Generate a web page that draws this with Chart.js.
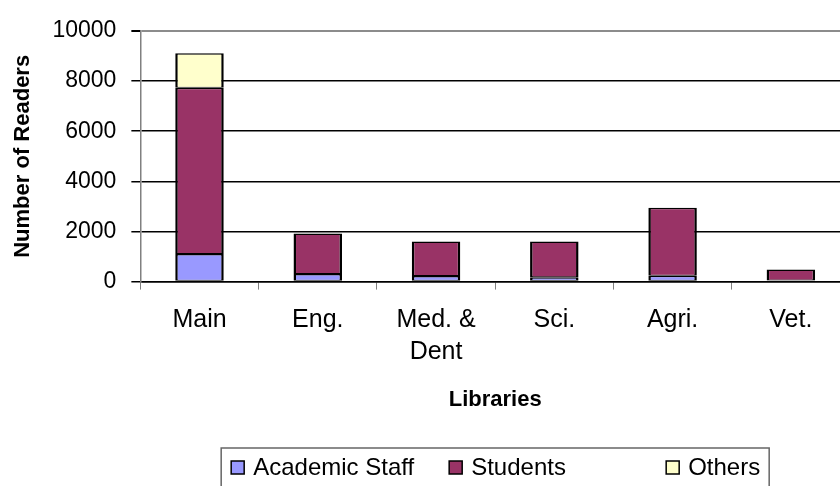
<!DOCTYPE html>
<html>
<head>
<meta charset="utf-8">
<script src="https://cdn.jsdelivr.net/npm/chart.js@4"></script>
<style>
  html, body { margin: 0; padding: 0; background: #fff; overflow: hidden; }
  #wrap { width: 852px; height: 486px; }
</style>
</head>
<body>
<div id="wrap"><canvas id="chart" width="852" height="486"></canvas></div>
<script>
const libraries = ["Main", "Eng.", ["Med. &", "Dent"], "Sci.", "Agri.", "Vet."];
const academicStaff = [1100, 300, 220, 170, 230, 40];
const students = [6640, 1620, 1380, 1430, 2720, 440];
const others = [1370, 0, 0, 0, 0, 0];
const yTicks = [0, 2000, 4000, 6000, 8000, 10000];

const FONT = "'Liberation Sans', Arial, sans-serif";

// Excel-like boxed legend, drawn under the axis title
const boxLegend = {
  id: "boxLegend",
  afterDraw(chart) {
    const ctx = chart.ctx;
    const area = chart.chartArea;
    const width = 548;
    const left = (area.left + area.right) / 2 - width / 2;
    const top = chart.scales.x.bottom + 11;
    const cols = [10, 228, 445];

    ctx.save();
    ctx.strokeStyle = "#666";
    ctx.lineWidth = 1.5;
    ctx.strokeRect(left, top, width, 60);

    ctx.font = "24px " + FONT;
    ctx.textBaseline = "middle";
    chart.data.datasets.forEach((ds, i) => {
      const x = left + cols[i];
      const y = top + 19;
      ctx.fillStyle = ds.backgroundColor;
      ctx.fillRect(x, y - 6, 13, 13);
      ctx.strokeStyle = "#000";
      ctx.lineWidth = 1.5;
      ctx.strokeRect(x, y - 6, 13, 13);
      ctx.fillStyle = "#000";
      ctx.fillText(ds.label, x + 22, y + 1);
    });
    ctx.restore();
  }
};

const barStyle = {
  borderColor: "#000",
  borderWidth: { top: 1.5, bottom: 1, left: 2.5, right: 2.5 },
  borderSkipped: false,
  barPercentage: 0.41,
  categoryPercentage: 1
};

new Chart(document.getElementById("chart"), {
  type: "bar",
  data: {
    labels: libraries,
    datasets: [
      { label: "Academic Staff", data: academicStaff, backgroundColor: "#9999FF", ...barStyle },
      { label: "Students", data: students, backgroundColor: "#993366", ...barStyle },
      { label: "Others", data: others, backgroundColor: "#FFFFCC", ...barStyle }
    ]
  },
  options: {
    responsive: false,
    animation: false,
    layout: { padding: { top: 31, left: 0, right: 2, bottom: 49 } },
    plugins: {
      legend: { display: false },
      tooltip: { enabled: false }
    },
    scales: {
      x: {
        stacked: true,
        offset: true,
        grid: {
          offset: true,
          drawOnChartArea: false,
          drawTicks: true,
          tickLength: 8,
          color: "#808080",
          tickColor: "#808080"
        },
        border: { color: "#000", width: 1.5 },
        ticks: {
          color: "#000",
          padding: 15,
          font: { family: FONT, size: 25, lineHeight: 1.28 },
          maxRotation: 0,
          autoSkip: false
        },
        title: {
          display: true,
          text: "Libraries",
          color: "#000",
          font: { family: FONT, size: 22, weight: "bold" },
          padding: { top: 3, bottom: 24 }
        }
      },
      y: {
        stacked: true,
        min: 0,
        max: 10000,
        afterBuildTicks(scale) {
          scale.ticks = yTicks.map(v => ({ value: v }));
        },
        grid: {
          color: ctx => (ctx.tick && ctx.tick.value === 10000 ? "#8c8c8c" : "#000"),
          lineWidth: ctx => (ctx.tick && ctx.tick.value === 10000 ? 2 : 1.5),
          tickLength: 9,
          tickColor: "#000"
        },
        border: { color: "#808080", width: 1.5 },
        ticks: {
          color: "#000",
          padding: 15,
          font: { family: FONT, size: 23 },
          callback: v => String(v)
        },
        title: {
          display: true,
          text: "Number of Readers",
          color: "#000",
          font: { family: FONT, size: 22, weight: "bold" },
          padding: { top: 10, bottom: 1 }
        }
      }
    }
  },
  plugins: [boxLegend]
});
</script>
</body>
</html>
